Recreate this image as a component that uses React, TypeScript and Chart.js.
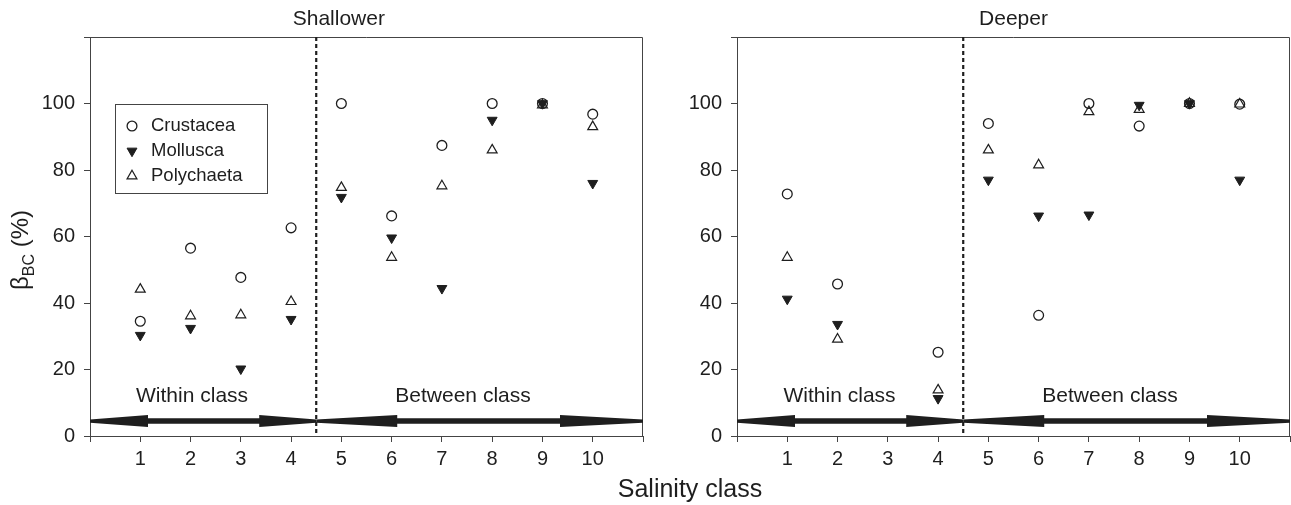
import React, { useEffect, useRef } from "react";
import { Chart, registerables } from "chart.js";
import { drawPoint } from "chart.js/helpers";

Chart.register(...registerables);

// ---------------- data ----------------
const salinityClasses = [1, 2, 3, 4, 5, 6, 7, 8, 9, 10];
const xTickValues = [0, 1, 2, 3, 4, 5, 6, 7, 8, 9, 10, 11];
const yTickValues = [0, 20, 40, 60, 80, 100, 120];
const yTickLabels = ["0", "20", "40", "60", "80", "100", ""];

const taxa = ["Crustacea", "Mollusca", "Polychaeta"];

const shallowCrustacea = [34.5, 56.5, 47.7, 62.6, 100, 66.2, 87.4, 100, 100, 96.8];
const shallowMollusca = [30.3, 32.4, 20.2, 35.1, 71.8, 59.6, 44.4, 95.0, 100, 76.0];
const shallowPolychaeta = [44.1, 36.1, 36.4, 40.4, 74.7, 53.7, 75.2, 86.0, 99.5, 93.0];

const deepCrustacea = [72.8, 45.7, null, 25.2, 94.0, 36.3, 100, 93.2, 100, 99.8];
const deepMollusca = [41.2, 33.6, null, 11.3, 77.0, 66.2, 66.5, 99.5, 100, 77.0];
const deepPolychaeta = [53.7, 29.1, null, 13.8, 86.0, 81.5, 97.5, 98.2, 100, 99.8];

const regionNames = ["Within class", "Between class"];
const regionBounds = [0, 4.5, 11];

// ---------------- styling ----------------
const FONT = '"Liberation Sans", Arial, Helvetica, sans-serif';
const INK = "#1e1e1e";
const FRAME = "#444";

type Vals = (number | null)[];

type PanelCfg = {
  title: string;
  titleX: number;
  values: Vals[];
  showLegend: boolean;
  showYTitle: boolean;
  width: number;
  left: number;
  yAxisWidth: number;
  padRight: number;
  labelX: number[];
};

const toPoints = (vals: Vals) =>
  salinityClasses
    .map((c, i) => (vals[i] == null ? null : { x: c, y: vals[i] as number }))
    .filter((p) => p !== null);

const markerStyles = [
  { pointStyle: "circle", pointRadius: 4.9, pointRotation: 0, pointBorderWidth: 1.3, pointBackgroundColor: "rgba(255,255,255,0)", order: 3 },
  { pointStyle: "triangle", pointRadius: 5.7, pointRotation: 180, pointBorderWidth: 1, pointBackgroundColor: INK, order: 2 },
  { pointStyle: "triangle", pointRadius: 5.7, pointRotation: 0, pointBorderWidth: 1.2, pointBackgroundColor: "rgba(255,255,255,0)", order: 1 },
];

function drawArrow(ctx: CanvasRenderingContext2D, x0: number, x1: number, y: number, hl0: number, hl1: number) {
  const tipH = 1.6, headH = 6, shaftH = 2.7;
  ctx.beginPath();
  ctx.moveTo(x0, y - tipH);
  ctx.lineTo(x0 + hl0, y - headH);
  ctx.lineTo(x0 + hl0, y - shaftH);
  ctx.lineTo(x1 - hl1, y - shaftH);
  ctx.lineTo(x1 - hl1, y - headH);
  ctx.lineTo(x1, y - tipH);
  ctx.lineTo(x1, y + tipH);
  ctx.lineTo(x1 - hl1, y + headH);
  ctx.lineTo(x1 - hl1, y + shaftH);
  ctx.lineTo(x0 + hl0, y + shaftH);
  ctx.lineTo(x0 + hl0, y + headH);
  ctx.lineTo(x0, y + tipH);
  ctx.closePath();
  ctx.fill();
}

const decorPlugin = {
  id: "decor",
  beforeDatasetsDraw(chart: any, _args: any, opts: any) {
    const { ctx, chartArea } = chart;
    const xs = chart.scales.x;
    const ys = chart.scales.y;
    ctx.save();
    // frame top + right
    ctx.strokeStyle = FRAME;
    ctx.lineWidth = 1;
    ctx.beginPath();
    ctx.moveTo(chartArea.left, chartArea.top + 0.5);
    ctx.lineTo(chartArea.right - 0.5, chartArea.top + 0.5);
    ctx.lineTo(chartArea.right - 0.5, chartArea.bottom);
    ctx.stroke();
    // dashed divider
    const xd = xs.getPixelForValue(regionBounds[1]);
    ctx.strokeStyle = INK;
    ctx.lineWidth = 2.2;
    ctx.setLineDash([4, 3]);
    ctx.beginPath();
    ctx.moveTo(xd, chartArea.top);
    ctx.lineTo(xd, chartArea.bottom);
    ctx.stroke();
    ctx.setLineDash([]);
    // arrows
    ctx.fillStyle = INK;
    const ya = ys.getPixelForValue(4.5);
    drawArrow(ctx, xs.getPixelForValue(regionBounds[0]), xd, ya, 58, 57);
    drawArrow(ctx, xd, xs.getPixelForValue(regionBounds[2]), ya, 81, 83);
    // region labels
    ctx.font = `21px ${FONT}`;
    ctx.textAlign = "center";
    ctx.textBaseline = "middle";
    ctx.fillStyle = INK;
    regionNames.forEach((n, i) => {
      ctx.fillText(n, xs.getPixelForValue(opts.labelX[i]), ys.getPixelForValue(11.9));
    });
    // title
    ctx.font = `21px ${FONT}`;
    ctx.fillText(opts.title, xs.getPixelForValue(opts.titleX), 19);
    // y title
    if (opts.showYTitle) {
      ctx.save();
      ctx.rotate(-Math.PI / 2);
      const cy = 250;
      const big = `24px ${FONT}`;
      const small = `16px ${FONT}`;
      ctx.textAlign = "left";
      ctx.textBaseline = "alphabetic";
      ctx.font = big;
      const w1 = ctx.measureText("β").width;
      const w3 = ctx.measureText(" (%)").width;
      ctx.font = small;
      const w2 = ctx.measureText("BC").width;
      const total = w1 + w2 + w3;
      let px = -(cy + total / 2);
      const base = 28;
      ctx.font = big;
      ctx.fillText("β", px, base);
      px += w1;
      ctx.font = small;
      ctx.fillText("BC", px, base + 6);
      px += w2;
      ctx.font = big;
      ctx.fillText(" (%)", px, base);
      ctx.restore();
    }
    ctx.restore();
  },
  afterDatasetsDraw(chart: any, _args: any, opts: any) {
    if (!opts.showLegend) return;
    const { ctx, chartArea } = chart;
    const bx = chartArea.left + 25;
    const by = chartArea.top + 67;
    const bw = 152;
    const bh = 89;
    ctx.save();
    ctx.fillStyle = "#fff";
    ctx.fillRect(bx, by, bw, bh);
    ctx.strokeStyle = FRAME;
    ctx.lineWidth = 1;
    ctx.strokeRect(bx + 0.5, by + 0.5, bw, bh);
    ctx.font = `18.5px ${FONT}`;
    ctx.textAlign = "left";
    ctx.textBaseline = "middle";
    chart.data.datasets.forEach((ds: any, i: number) => {
      const yy = by + 22 + i * 25;
      ctx.strokeStyle = INK;
      ctx.fillStyle = ds.pointBackgroundColor;
      ctx.lineWidth = ds.pointBorderWidth;
      drawPoint(ctx, {
        pointStyle: ds.pointStyle,
        radius: ds.pointRadius,
        rotation: ds.pointRotation,
        borderWidth: ds.pointBorderWidth,
      } as any, bx + 17, yy);
      ctx.fillStyle = INK;
      ctx.fillText(ds.label, bx + 36, yy);
    });
    ctx.restore();
  },
};

function Panel({ cfg }: { cfg: PanelCfg }) {
  const ref = useRef<HTMLCanvasElement>(null);
  useEffect(() => {
    if (!ref.current) return;
    const gridOpts = { drawOnChartArea: false, drawTicks: true, tickLength: 6, color: FRAME, tickColor: FRAME, lineWidth: 1 };
    const chart = new Chart(ref.current, {
      type: "scatter",
      data: {
        datasets: taxa.map((t, i) => ({
          label: t,
          data: toPoints(cfg.values[i]),
          pointBorderColor: INK,
          ...markerStyles[i],
        })) as any,
      },
      options: {
        animation: false,
        responsive: false,
        maintainAspectRatio: false,
        events: [],
        layout: { autoPadding: false, padding: { top: 37, right: cfg.padRight, left: 0, bottom: 0 } },
        plugins: {
          legend: { display: false },
          tooltip: { enabled: false },
          decor: {
            title: cfg.title,
            titleX: cfg.titleX,
            showLegend: cfg.showLegend,
            showYTitle: cfg.showYTitle,
            labelX: cfg.labelX,
          },
        } as any,
        scales: {
          x: {
            type: "linear",
            min: 0,
            max: 11,
            afterBuildTicks: (s: any) => {
              s.ticks = xTickValues.map((v) => ({ value: v }));
            },
            ticks: {
              autoSkip: false,
              maxRotation: 0,
              padding: 5,
              color: INK,
              font: { size: 20, family: FONT },
              callback: (v: any) => (salinityClasses.includes(Number(v)) ? String(v) : ""),
            },
            grid: gridOpts,
            border: { display: true, color: FRAME, width: 1 },
            afterFit: (s: any) => {
              s.height = 69;
              s.paddingLeft = 0;
              s.paddingRight = 0;
            },
          },
          y: {
            type: "linear",
            min: 0,
            max: 120,
            afterBuildTicks: (s: any) => {
              s.ticks = yTickValues.map((v) => ({ value: v }));
            },
            ticks: {
              autoSkip: false,
              padding: 9,
              color: INK,
              font: { size: 20, family: FONT },
              callback: (v: any) => yTickLabels[yTickValues.indexOf(Number(v))] ?? "",
            },
            grid: gridOpts,
            border: { display: true, color: FRAME, width: 1 },
            afterFit: (s: any) => {
              s.width = cfg.yAxisWidth;
              s.paddingTop = 0;
              s.paddingBottom = 0;
            },
          },
        },
      },
      plugins: [decorPlugin],
    } as any);
    return () => chart.destroy();
  }, [cfg]);
  return (
    <canvas
      ref={ref}
      width={cfg.width}
      height={505}
      style={{ position: "absolute", left: cfg.left, top: 0, width: cfg.width, height: 505 }}
    />
  );
}

const shallowPanel: PanelCfg = {
  title: "Shallower",
  titleX: 4.95,
  values: [shallowCrustacea, shallowMollusca, shallowPolychaeta],
  showLegend: true,
  showYTitle: true,
  width: 650,
  left: 0,
  yAxisWidth: 90,
  padRight: 7,
  labelX: [2.03, 7.42],
};

const deepPanel: PanelCfg = {
  title: "Deeper",
  titleX: 5.5,
  values: [deepCrustacea, deepMollusca, deepPolychaeta],
  showLegend: false,
  showYTitle: false,
  width: 641,
  left: 650,
  yAxisWidth: 87,
  padRight: 1,
  labelX: [2.04, 7.42],
};

export default function App() {
  return (
    <div style={{ position: "absolute", left: 0, top: 0, width: 1291, height: 505, background: "#fff", fontFamily: FONT }}>
      <Panel cfg={shallowPanel} />
      <Panel cfg={deepPanel} />
      <div
        style={{
          position: "absolute",
          left: 540,
          width: 300,
          top: 476,
          textAlign: "center",
          fontSize: 25,
          lineHeight: "25px",
          color: INK,
        }}
      >
        Salinity class
      </div>
    </div>
  );
}
